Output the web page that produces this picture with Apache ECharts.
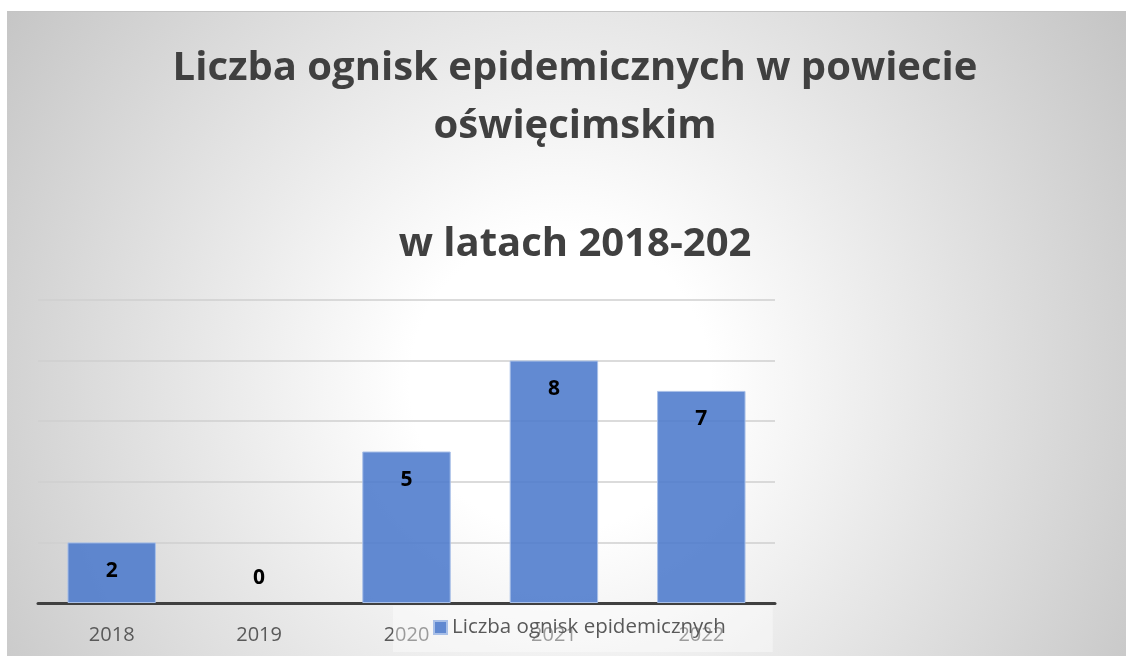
<!DOCTYPE html>
<html>
<head>
<meta charset="utf-8">
<script src="https://cdn.jsdelivr.net/npm/echarts@6/dist/echarts.min.js"></script>
<style>
html,body{margin:0;padding:0;background:#fff;}
#bg{position:absolute;left:7px;top:11px;width:1119px;height:645px;border-top:1px solid #c4c4c4;
background:radial-gradient(circle at 553px 370px,#ffffff 0px,#ffffff 150px,#c4c4c4 680px);}
#chart{position:absolute;left:0;top:0;width:1126px;height:656px;}
</style>
</head>
<body>
<div id="bg"></div>
<div id="chart"></div>
<script>
const titleLines = ['Liczba ognisk epidemicznych w powiecie', 'oświęcimskim', '', 'w latach 2018-202'];
const categories = ['2018', '2019', '2020', '2021', '2022'];
const seriesName = 'Liczba ognisk epidemicznych';
const values = [2, 0, 5, 8, 7];

const barData = values.map(v => v === 0
  ? {value: v, itemStyle: {borderWidth: 0}, label: {position: 'top', distance: 14}}
  : v);

const chart = echarts.init(document.getElementById('chart'), null, {renderer: 'canvas'});
chart.setOption({
  backgroundColor: 'transparent',
  animation: false,
  title: {
    text: titleLines.join('\n'),
    left: 570,
    top: 34,
    textAlign: 'center',
    textStyle: {
      fontFamily: 'Open Sans',
      fontWeight: 'bold',
      fontSize: 40,
      lineHeight: 58.7,
      color: '#404040'
    }
  },
  legend: {
    data: [seriesName],
    left: 393,
    top: 606,
    padding: [11, 47, 14, 40],
    backgroundColor: 'rgba(255,255,255,0.4)',
    itemWidth: 13,
    itemHeight: 13,
    itemGap: 6,
    icon: 'rect',
    textStyle: {fontFamily: 'Open Sans', fontSize: 20.5, color: '#595959'}
  },
  grid: {left: 38, right: 351, top: 300, bottom: 53, containLabel: false},
  xAxis: {
    type: 'category',
    data: categories,
    axisLine: {lineStyle: {color: '#404040', width: 3}},
    axisTick: {show: false},
    axisLabel: {fontFamily: 'Open Sans', fontSize: 20, color: '#595959', margin: 22}
  },
  yAxis: {
    type: 'value',
    min: 0,
    max: 10,
    interval: 2,
    axisLabel: {show: false},
    axisLine: {show: false},
    axisTick: {show: false},
    splitLine: {lineStyle: {color: '#cfcfcf', width: 1.5}}
  },
  series: [{
    name: seriesName,
    type: 'bar',
    data: barData,
    barWidth: '60%',
    itemStyle: {color: 'rgba(76,122,204,0.88)', borderColor: '#a9c0e8', borderWidth: 1},
    label: {
      show: true,
      position: 'insideTop',
      distance: 18,
      fontFamily: 'Open Sans',
      fontWeight: 'bold',
      fontSize: 21,
      color: '#000'
    }
  }]
});
</script>
</body>
</html>
